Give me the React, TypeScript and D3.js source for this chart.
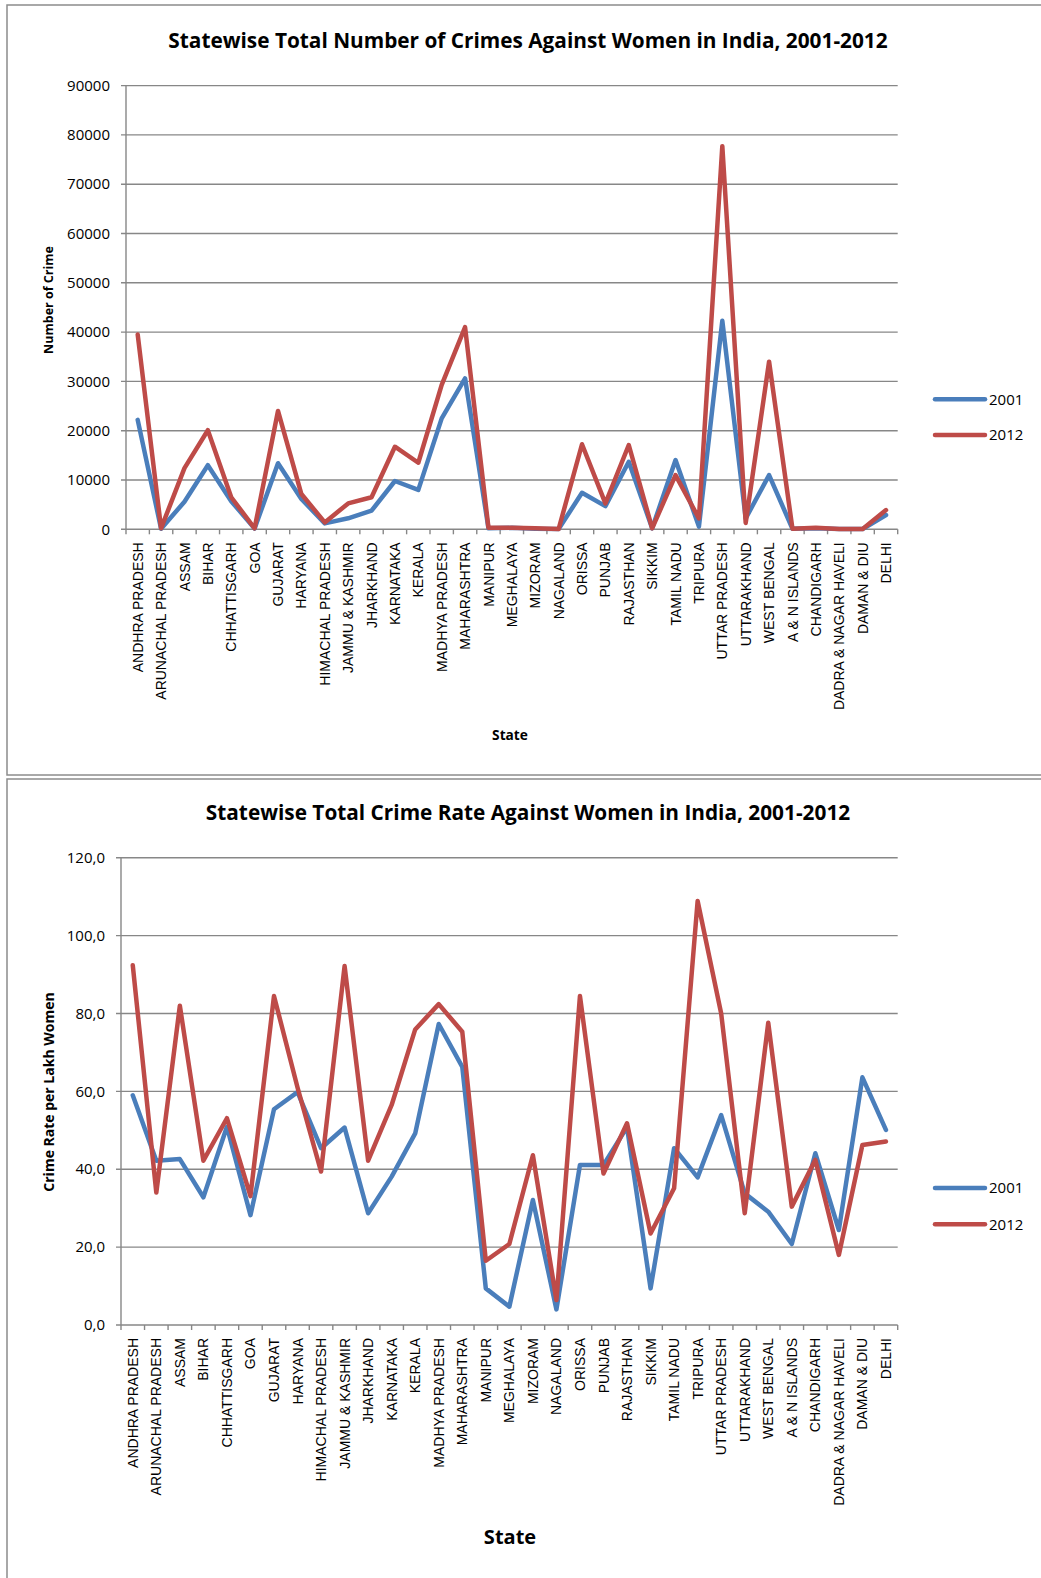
import React from 'react';
import * as d3 from 'd3';

// States in the order they appear on the x axis
const states = [
  'ANDHRA PRADESH', 'ARUNACHAL PRADESH', 'ASSAM', 'BIHAR', 'CHHATTISGARH', 'GOA',
  'GUJARAT', 'HARYANA', 'HIMACHAL PRADESH', 'JAMMU & KASHMIR', 'JHARKHAND', 'KARNATAKA',
  'KERALA', 'MADHYA PRADESH', 'MAHARASHTRA', 'MANIPUR', 'MEGHALAYA', 'MIZORAM',
  'NAGALAND', 'ORISSA', 'PUNJAB', 'RAJASTHAN', 'SIKKIM', 'TAMIL NADU', 'TRIPURA',
  'UTTAR PRADESH', 'UTTARAKHAND', 'WEST BENGAL', 'A & N ISLANDS', 'CHANDIGARH',
  'DADRA & NAGAR HAVELI', 'DAMAN & DIU', 'DELHI'
];

const years = ['2001', '2012'];

// Total number of crimes
const crimes2001 = [
  22200, 100, 5600, 13000, 5700, 150, 13400, 6150, 1200, 2230, 3770, 9800,
  8000, 22500, 30600, 200, 300, 100, 50, 7400, 4700, 13700, 200, 14050, 550,
  42300, 2200, 11000, 100, 200, 50, 50, 2900
];
const crimes2012 = [
  39500, 200, 12400, 20100, 6500, 200, 24000, 7150, 1400, 5250, 6500, 16750,
  13500, 29300, 41000, 300, 300, 200, 50, 17250, 5250, 17100, 200, 11000, 2200,
  77700, 1300, 34000, 100, 300, 50, 50, 3900
];

// Crime rate per lakh women
const rate2001 = [
  59.0, 42.2, 42.6, 32.8, 50.9, 28.2, 55.4, 59.8, 45.4, 50.7, 28.7, 38.1,
  49.2, 77.3, 66.3, 9.4, 4.7, 32.1, 4.0, 41.1, 41.1, 50.8, 9.4, 45.4, 37.9,
  53.9, 33.8, 29.1, 20.8, 44.1, 24.4, 63.6, 50.1
];
const rate2012 = [
  92.4, 34.0, 82.0, 42.2, 53.1, 33.1, 84.5, 61.0, 39.4, 92.2, 42.2, 56.5,
  75.9, 82.4, 75.3, 16.5, 20.8, 43.6, 6.4, 84.5, 38.9, 51.8, 23.5, 35.1, 108.9,
  80.0, 28.7, 77.6, 30.4, 42.4, 18.0, 46.2, 47.1
];

const countTicks = [0, 10000, 20000, 30000, 40000, 50000, 60000, 70000, 80000, 90000];
const rateTicks = [0, 20, 40, 60, 80, 100, 120];

const COLORS = ['#4a7ebb', '#be4b48'];
const GRID = '#878787';
const CALIBRI = '"Open Sans", "Noto Sans", sans-serif';
const ARIAL = '"Liberation Sans", Arial, sans-serif';

type ChartProps = {
  title: string;
  titleY: number;
  yLabel: string;
  yLabelSize: number;
  yLabelY: number;
  xLabel: string;
  xLabelY: number;
  xLabelSize: number;
  series: number[][];
  ticks: number[];
  fmt: (v: number) => string;
  left: number;
  right: number;
  top: number;
  bottom: number;
  legendY: number[];
};

function LineChart(p: ChartProps) {
  const x = d3.scaleBand<string>().domain(states).range([p.left, p.right]).padding(0);
  const y = d3.scaleLinear()
    .domain([0, p.ticks[p.ticks.length - 1]])
    .range([p.bottom, p.top]);
  const cx = (s: string) => (x(s) as number) + x.bandwidth() / 2;

  const line = d3.line<number>()
    .x((_, i) => cx(states[i]))
    .y(d => y(d));

  const boundaries = states.map(s => x(s) as number).concat([p.right]);

  return (
    <g>
      {/* title */}
      <text x={528} y={p.titleY} textAnchor="middle" fontFamily={CALIBRI}
        fontWeight={700} fontSize={20.8} fill="#000">{p.title}</text>

      {/* gridlines + y ticks */}
      {p.ticks.map(t => (
        <g key={t}>
          <line x1={p.left - 5} x2={p.right} y1={y(t)} y2={y(t)} stroke={GRID} strokeWidth={1.4} />
          <text x={p.left - 16} y={y(t)} dy="0.35em" textAnchor="end" fontFamily={CALIBRI}
            fontSize={15} fill="#000">{p.fmt(t)}</text>
        </g>
      ))}
      <line x1={p.left} x2={p.left} y1={p.top} y2={p.bottom} stroke={GRID} strokeWidth={1.4} />

      {/* x ticks + labels */}
      {boundaries.map((b, i) => (
        <line key={i} x1={b} x2={b} y1={p.bottom} y2={p.bottom + 5} stroke={GRID} strokeWidth={1.4} />
      ))}
      {states.map(s => (
        <text key={s} transform={`translate(${cx(s)},${p.bottom + 13}) rotate(-90)`}
          dy="0.36em" textAnchor="end" fontFamily={ARIAL} fontSize={14} fill="#000">{s}</text>
      ))}

      {/* series */}
      {p.series.map((vals, i) => (
        <path key={i} d={line(vals) || ''} fill="none" stroke={COLORS[i]} strokeWidth={4.5}
          strokeLinejoin="round" strokeLinecap="round" />
      ))}

      {/* axis titles */}
      <text transform={`translate(49,${p.yLabelY}) rotate(-90)`} dy="0.35em" textAnchor="middle"
        fontFamily={CALIBRI} fontWeight={700} fontSize={p.yLabelSize} fill="#000">{p.yLabel}</text>
      <text x={510} y={p.xLabelY} dy="0.35em" textAnchor="middle" fontFamily={CALIBRI}
        fontWeight={700} fontSize={p.xLabelSize} fill="#000">{p.xLabel}</text>

      {/* legend */}
      {years.map((yr, i) => (
        <g key={yr}>
          <line x1={935} x2={985} y1={p.legendY[i]} y2={p.legendY[i]} stroke={COLORS[i]}
            strokeWidth={4.5} strokeLinecap="round" />
          <text x={989} y={p.legendY[i]} dy="0.35em" fontFamily={CALIBRI} fontSize={15} fill="#000">{yr}</text>
        </g>
      ))}
    </g>
  );
}

export default function App() {
  const commaFmt = (v: number) => d3.format('.1f')(v).replace('.', ',');
  return (
    <svg width={1041} height={1578} style={{ position: 'absolute', left: 0, top: 0, background: '#fff' }}>
      <rect x={0} y={0} width={1041} height={1578} fill="#fff" />
      {/* chart frames */}
      <rect x={7} y={5} width={1100} height={770} fill="none" stroke="#8c8c8c" strokeWidth={1.5} />
      <rect x={7} y={779} width={1100} height={900} fill="none" stroke="#8c8c8c" strokeWidth={1.5} />

      <LineChart
        title="Statewise Total Number of Crimes Against Women in India, 2001-2012"
        titleY={47.5}
        yLabel="Number of Crime"
        yLabelSize={12.5}
        yLabelY={300}
        xLabel="State"
        xLabelY={735}
        xLabelSize={13.7}
        series={[crimes2001, crimes2012]}
        ticks={countTicks}
        fmt={v => String(v)}
        left={126}
        right={897.7}
        top={85.6}
        bottom={529.3}
        legendY={[399.3, 435]}
      />
      <LineChart
        title="Statewise Total Crime Rate Against Women in India, 2001-2012"
        titleY={819.5}
        yLabel="Crime Rate per Lakh Women"
        yLabelSize={14}
        yLabelY={1092}
        xLabel="State"
        xLabelY={1537}
        xLabelSize={20}
        series={[rate2001, rate2012]}
        ticks={rateTicks}
        fmt={commaFmt}
        left={121}
        right={897.7}
        top={857.7}
        bottom={1325}
        legendY={[1188, 1224.3]}
      />
    </svg>
  );
}
